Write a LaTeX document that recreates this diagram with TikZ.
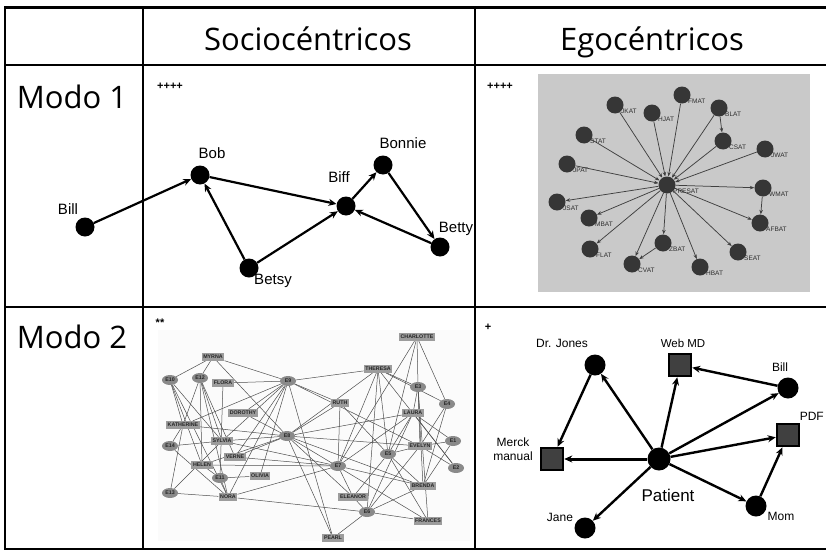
\documentclass[tikz,border=0pt]{standalone}
\usepackage{fontspec}
\setmainfont{Liberation Sans}
\newfontfamily\headfont{Open Sans}
\usetikzlibrary{arrows.meta,shapes.geometric}
\pgfdeclarelayer{back}
\pgfdeclarelayer{edges}
\pgfsetlayers{back,edges,main}

\definecolor{panelgray}{HTML}{C9C9C9}
\definecolor{egofill}{HTML}{363636}
\definecolor{egoline}{HTML}{404040}
\definecolor{egotext}{HTML}{2E2E2E}
\definecolor{boxfill}{HTML}{9C9C9C}
\definecolor{evfill}{HTML}{8A8A8A}
\definecolor{boxtext}{HTML}{262626}
\definecolor{webline}{HTML}{4E4E4E}
\definecolor{webpanel}{HTML}{FBFBFB}
\definecolor{srcfill}{HTML}{404040}

\tikzset{
  headtext/.style={font=\headfont\fontsize{31}{36}\selectfont, inner sep=0pt, anchor=base},
  namelbl/.style={font=\fontsize{15}{17}\selectfont, inner sep=0pt},
  rating/.style={font=\fontsize{11}{12}\selectfont\bfseries, inner sep=0pt},
  actor/.style={circle, fill=black, minimum size=19pt, inner sep=0pt},
  tie/.style={line width=2.2pt, -{Stealth[length=8pt,width=7pt]}},
  egonode/.style={circle, fill=egofill, minimum size=17pt, inner sep=0pt},
  egolbl/.style={font=\fontsize{6.5}{7}\selectfont, text=egotext, inner sep=0pt, anchor=west},
  egotie/.style={line width=0.75pt, draw=egoline, -{Stealth[length=4.5pt,width=3.5pt]}},
  woman/.style={rectangle, fill=boxfill, text=boxtext, font=\fontsize{5.3}{6}\selectfont\bfseries, inner xsep=1.6pt, inner ysep=2pt},
  event/.style={ellipse, fill=evfill, text=boxtext, font=\fontsize{5.3}{6}\selectfont\bfseries, minimum width=16pt, minimum height=10pt, inner sep=0.5pt},
  attend/.style={line width=0.5pt, draw=webline},
  person/.style={circle, fill=black, minimum size=21pt, inner sep=0pt},
  source/.style={rectangle, draw=black, line width=2.5pt, fill=srcfill, minimum size=22pt, inner sep=0pt},
  link/.style={line width=2.4pt, -{Stealth[length=8pt,width=7pt]}},
  hint/.style={line width=2.4pt, -{Stealth[open,length=8pt,width=7pt,fill=white]}},
  smalllbl/.style={font=\fontsize{12}{13}\selectfont, inner sep=0pt, align=center},
  rule/.style={line width=1.2pt, draw=black}
}

\begin{document}
\begin{tikzpicture}[x=1pt,y=-1pt]
\useasboundingbox (0,0) rectangle (826,551);
\begin{pgfonlayer}{back}
  \fill[white] (0,0) rectangle (826,551);
  \fill[panelgray] (538,74) rectangle (810,292);
  \fill[webpanel] (158,330) rectangle (470,541);
\end{pgfonlayer}

% ---------- table frame ----------
\draw[line width=3pt] (4,8) -- (826,8);
\draw[line width=2pt] (5,8) -- (5,550);
\draw[rule] (143,8) -- (143,550);
\draw[rule] (475,8) -- (475,550);
\draw[rule] (5,65) -- (826,65);
\draw[rule] (5,307) -- (826,307);
\draw[rule] (5,549) -- (826,549);

% ---------- headings ----------
\node[headtext] (hsoc) at (308,50) {Sociocéntricos};
\node[headtext] (hego) at (652,50) {Egocéntricos};
\node[headtext] (mode1) at (72,108) {Modo 1};
\node[headtext] (mode2) at (72,348) {Modo 2};

% ---------- Modo 1, sociocentric ----------
\node[rating] (r11) at (170,86) {++++};
\node[actor] (bill) at (85,227) {};
\node[actor] (bob) at (200,175) {};
\node[actor] (biff) at (346,206) {};
\node[actor] (bonnie) at (383,165) {};
\node[actor] (betty) at (440,247) {};
\node[actor] (betsy) at (249,268) {};
\node[namelbl] (lbill) at (68,209) {Bill};
\node[namelbl] (lbob) at (212,153) {Bob};
\node[namelbl] (lbiff) at (339,177) {Biff};
\node[namelbl] (lbonnie) at (403,143) {Bonnie};
\node[namelbl] (lbetty) at (456,229) {Betty};
\node[namelbl] (lbetsy) at (273,281) {Betsy};
\draw[tie] (bill) -- (bob);
\draw[tie] (bob) -- (biff);
\draw[tie] (betsy) -- (bob);
\draw[tie] (betsy) -- (biff);
\draw[tie] (biff) -- (bonnie);
\draw[tie] (bonnie) -- (betty);
\draw[tie] (betty) -- (biff);

% ---------- Modo 1, egocentric ----------
\node[rating] (r12) at (500,86) {++++};
\node[egonode] (presat) at (667,185) {};
\foreach \n/\x/\y/\t in {
  jkat/615/105/JKAT, hjat/652/113/HJAT, fmat/682/95/FMAT, blat/719/108/BLAT,
  csat/723/141/CSAT, jwat/765/149/JWAT, stat/584/135/STAT, jpat/567/164/JPAT,
  jsat/557/202/JSAT, mbat/589/218/MBAT, flat/590/249/FLAT, cvat/632/264/CVAT,
  zbat/663/243/ZBAT, hbat/700/267/HBAT, seat/738/252/SEAT, afbat/760/223/AFBAT,
  wmat/763/188/WMAT}{
  \node[egonode] (\n) at (\x,\y) {};
  \node[egolbl] (l\n) at (\x+6,\y+6) {\t};
}
\node[egolbl] (lpresat) at (673,191) {PRESAT};
\begin{pgfonlayer}{edges}
  \foreach \n in {jkat,hjat,fmat,blat,csat,jwat,stat,jpat}
    \draw[egotie] (\n) -- (presat);
  \foreach \n in {jsat,mbat,flat,cvat,zbat,hbat,seat,afbat,wmat}
    \draw[egotie] (presat) -- (\n);
  \draw[egotie] (blat) -- (csat);
  \draw[egotie] (wmat) -- (afbat);
  \draw[egotie] (zbat) -- (cvat);
\end{pgfonlayer}

% ---------- Modo 2, sociocentric (women and events) ----------
\node[rating] (r21) at (160,323) {**};
\foreach \n/\x/\y/\t in {
  myrna/213/357/MYRNA, flora/223/383/FLORA, dorothy/243/413/DOROTHY,
  katherine/183/425/KATHERINE, sylvia/222/441/SYLVIA, verne/235/457/VERNE,
  helen/202/465/HELEN, olivia/260/476/OLIVIA, nora/228/497/NORA,
  charlotte/417/337/CHARLOTTE, theresa/378/369/THERESA, ruth/340/403/RUTH,
  laura/413/413/LAURA, evelyn/420/446/EVELYN, brenda/423/486/BRENDA,
  eleanor/353/497/ELEANOR, frances/428/521/FRANCES, pearl/333/538/PEARL}{
  \node[woman] (\n) at (\x,\y) {\t};
}
\foreach \n/\x/\y in {
  10/170/380, 12/200/378, 9/288/381, 8/287/436, 14/170/446, 11/220/478,
  13/170/493, 3/418/387, 4/447/404, 1/453/441, 2/456/468, 5/388/454,
  7/338/466, 6/367/512}{
  \node[event] (e\n) at (\x,\y) {E\n};
}
\begin{pgfonlayer}{edges}
  \foreach \w/\evs in {
    evelyn/{1,2,3,4,5,6,8,9}, laura/{1,2,3,5,6,7,8},
    theresa/{2,3,4,5,6,7,8,9}, brenda/{1,3,4,5,6,7,8},
    charlotte/{3,4,5,7}, frances/{3,5,6,8}, eleanor/{5,6,7,8},
    pearl/{6,8,9}, ruth/{5,7,8,9}, verne/{7,8,9,12},
    myrna/{8,9,10,12}, katherine/{8,9,10,12,13,14},
    sylvia/{7,8,9,10,12,13,14}, nora/{6,7,9,10,11,12,13,14},
    helen/{7,8,10,11,12}, dorothy/{8,9}, olivia/{9,11}, flora/{9,11}}{
    \foreach \e in \evs
      \draw[attend] (\w) -- (e\e);
  }
\end{pgfonlayer}

% ---------- Modo 2, egocentric ----------
\node[rating] (r22) at (488,327) {+};
\node[person, minimum size=23pt] (patient) at (659,459) {};
\node[person] (drjones) at (595,365) {};
\node[person] (bill2) at (788,388) {};
\node[person] (jane) at (585,528) {};
\node[person] (mom) at (756,506) {};
\node[source] (webmd) at (680,365) {};
\node[source] (pdf) at (788,435) {};
\node[source] (merck) at (552,459) {};
\node[smalllbl] (ldrjones) at (562,343) {Dr. Jones};
\node[smalllbl, font=\fontsize{11.5}{13}\selectfont] (lwebmd) at (683,343) {Web MD};
\node[smalllbl] (lbill2) at (780,367) {Bill};
\node[smalllbl, anchor=east] (lpdf) at (824,416) {PDF};
\node[smalllbl, font=\fontsize{12}{14}\selectfont] (lmerck) at (513,449) {Merck\\manual};
\node[smalllbl, font=\fontsize{17}{19}\selectfont] (lpatient) at (668,495) {Patient};
\node[smalllbl] (ljane) at (560,517) {Jane};
\node[smalllbl] (lmom) at (781,516) {Mom};
\draw[link] (patient) -- (drjones);
\draw[link] (patient) -- (webmd);
\draw[link] (patient) -- (bill2);
\draw[link] (patient) -- (pdf);
\draw[link, line width=3pt] (patient) -- (merck);
\draw[link] (patient) -- (jane);
\draw[link] (patient) -- (mom);
\draw[hint] (drjones) -- (merck);
\draw[hint] (bill2) -- (webmd);
\draw[hint] (mom) -- (pdf);
\end{tikzpicture}
\end{document}
